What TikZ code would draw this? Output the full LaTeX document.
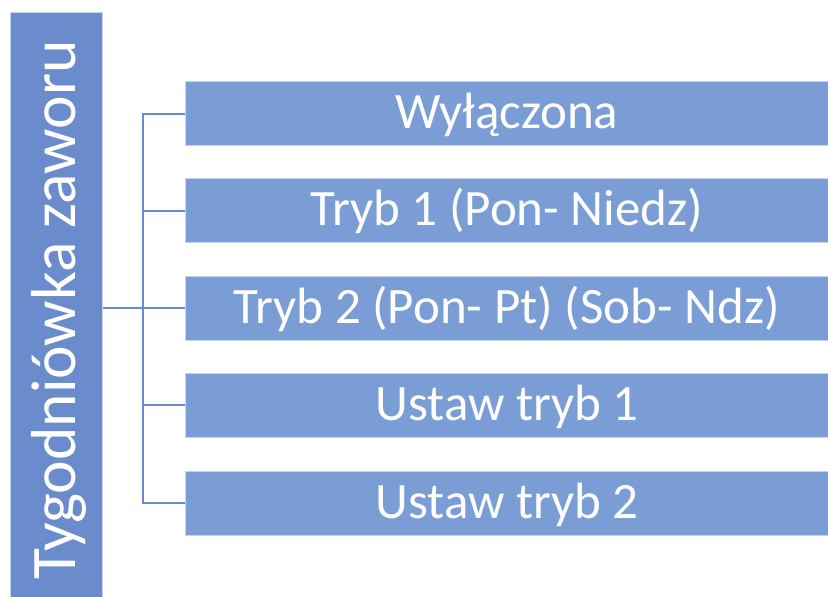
\documentclass[tikz,border=0pt]{standalone}
\usepackage{fontspec}
\setmainfont{Carlito}
\definecolor{leftblue}{HTML}{6A8CCC}
\definecolor{boxblue}{HTML}{7B9DD5}
\definecolor{edgeblue}{HTML}{C8D4EC}
\begin{document}
\begin{tikzpicture}[x=1pt,y=-1pt,
  item/.style={fill=boxblue, draw=edgeblue, line width=0.8pt, minimum width=644pt, minimum height=64pt, inner sep=0pt, text height=40pt, text depth=10pt, text=white, font=\fontsize{51}{55}\selectfont, anchor=west},
  conn/.style={draw=leftblue, line width=2pt}]
\useasboundingbox (0,0) rectangle (828,597);
\begin{scope}
\clip (0,0) rectangle (828,597);
\node[fill=leftblue, draw=edgeblue, line width=0.8pt, minimum width=92pt, minimum height=600pt, inner sep=0pt, anchor=north west] (root) at (10,12) {};
\node[rotate=90, anchor=base, inner sep=0pt, text=white, font=\fontsize{63.5}{66}\selectfont] (roottext) at (75,310) {Tygodniówka zaworu};
\node[item] (b1) at (184.5,113.5) {Wyłączona};
\node[item] (b2) at (184.5,210.5) {Tryb 1 (Pon- Niedz)};
\node[item] (b3) at (184.5,308) {Tryb 2 (Pon- Pt) (Sob- Ndz)};
\node[item] (b4) at (184.5,405) {Ustaw tryb 1};
\node[item] (b5) at (184.5,503) {Ustaw tryb 2};
\end{scope}
\coordinate (j) at (143,308);
\draw[conn] (root.east |- j) -- (j);
\draw[conn] (b1.west) -| (j) |- (b5.west);
\draw[conn] (b2.west) -- (b2.west -| j);
\draw[conn] (b3.west) -- (j);
\draw[conn] (b4.west) -- (b4.west -| j);
\end{tikzpicture}
\end{document}
